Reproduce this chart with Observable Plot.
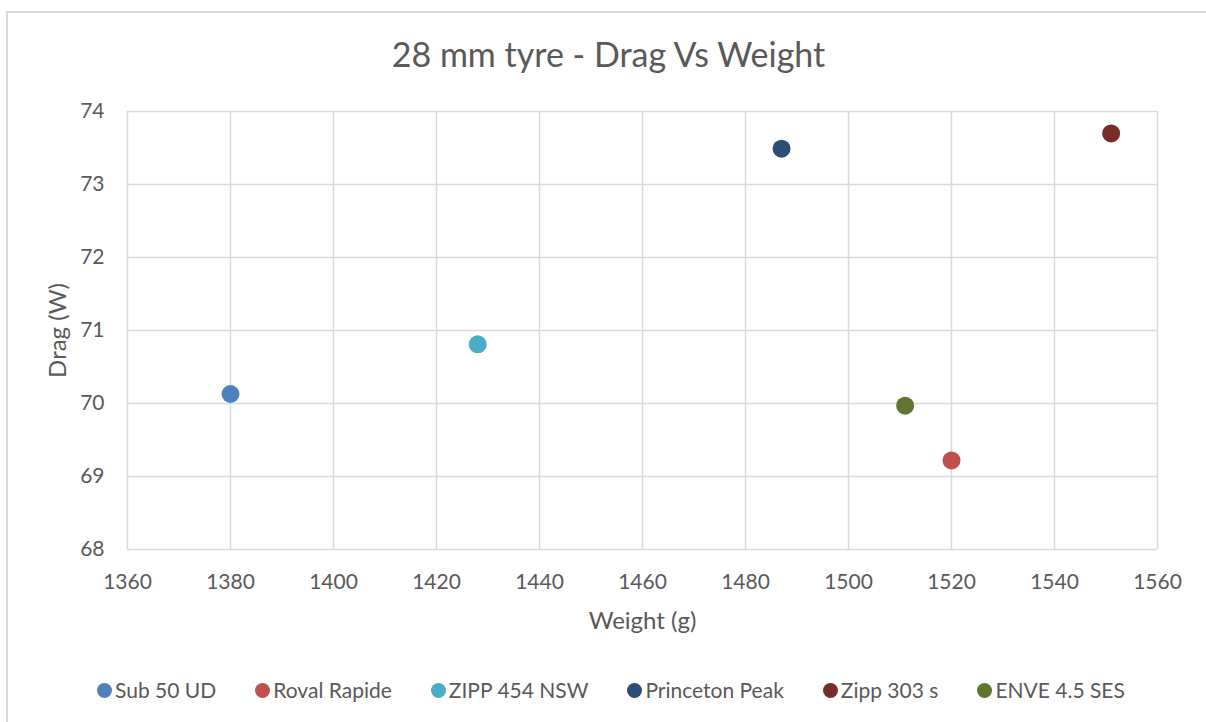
<!DOCTYPE html>
<html>
<head>
<meta charset="utf-8">
<script src="https://cdn.jsdelivr.net/npm/d3@7"></script>
<script src="https://cdn.jsdelivr.net/npm/@observablehq/plot@0.6"></script>
<style>
  html, body { margin: 0; padding: 0; background: #fff; overflow: hidden; }
  #wrap { position: relative; width: 1206px; height: 722px; font-family: Lato, "Open Sans", sans-serif; color: #595959; }
  #frame { position: absolute; left: 6px; top: 11px; width: 1230px; height: 740px; border: 2px solid #d9d9d9; box-sizing: border-box; }
  #title { position: absolute; left: 7px; width: 1203px; top: 33px; text-align: center; font-size: 34px; line-height: 42px; }
  #chart { position: absolute; left: 0; top: 0; }
  #chart g[aria-label$="axis label"], #chart g[aria-label$="axis label"] text { font-size: 24px !important; }
  #legend { position: absolute; left: 6px; width: 1210px; top: 677px; display: flex; justify-content: center; gap: 39px; font-size: 21px; line-height: 26px; }
  .item { display: flex; align-items: center; gap: 3px; }
  .sw { width: 15px; height: 15px; border-radius: 50%; display: inline-block; }
</style>
</head>
<body>
<div id="wrap">
  <div id="frame"></div>
  <div id="chart"></div>
  <div id="title"></div>
  <div id="legend"></div>
</div>
<script>
const titleText = "28 mm tyre - Drag Vs Weight";
const names = ["Sub 50 UD", "Roval Rapide", "ZIPP 454 NSW", "Princeton Peak", "Zipp 303 s", "ENVE 4.5 SES"];
const weights = [1380, 1520, 1428, 1487, 1551, 1511];
const drags = [70.13, 69.22, 70.81, 73.49, 73.70, 69.97];
const xTicks = [1360, 1380, 1400, 1420, 1440, 1460, 1480, 1500, 1520, 1540, 1560];
const yTicks = [68, 69, 70, 71, 72, 73, 74];
const palette = ["#4F81BD", "#C0504D", "#4BACC6", "#2C4D75", "#772C2A", "#5F7530"];

const data = names.map((n, i) => ({name: n, weight: weights[i], drag: drags[i]}));

const plot = Plot.plot({
  width: 1206,
  height: 650,
  marginLeft: 127,
  marginRight: 49,
  marginTop: 111,
  marginBottom: 101,
  style: {fontFamily: "Lato, 'Open Sans', sans-serif", fontSize: "21px", color: "#595959", background: "transparent", overflow: "visible"},
  x: {domain: [1360, 1560], ticks: xTicks},
  y: {domain: [68, 74], ticks: yTicks},
  color: {domain: names, range: palette},
  marks: [
    Plot.gridX(xTicks, {stroke: "#d9d9d9", strokeOpacity: 1, strokeWidth: 1.5}),
    Plot.gridY(yTicks, {stroke: "#d9d9d9", strokeOpacity: 1, strokeWidth: 1.5}),
    Plot.axisX(xTicks, {tickSize: 0, tickPadding: 25, tickFormat: d3.format("d"), label: "Weight (g)", labelAnchor: "center", labelArrow: "none", labelOffset: 79, fontSize: 21}),
    Plot.axisY(yTicks, {tickSize: 0, tickPadding: 23, tickFormat: d3.format("d"), label: "Drag (W)", labelAnchor: "center", labelArrow: "none", labelOffset: 79, fontSize: 21}),
    Plot.dot(data, {x: "weight", y: "drag", fill: "name", r: 9})
  ]
});
document.getElementById("chart").appendChild(plot);
document.getElementById("title").textContent = titleText;

const color = plot.scale("color");
const legend = document.getElementById("legend");
color.domain.forEach((n, i) => {
  const item = document.createElement("div");
  item.className = "item";
  const sw = document.createElement("span");
  sw.className = "sw";
  sw.style.background = color.range[i];
  const t = document.createElement("span");
  t.textContent = n;
  item.appendChild(sw);
  item.appendChild(t);
  legend.appendChild(item);
});
</script>
</body>
</html>
